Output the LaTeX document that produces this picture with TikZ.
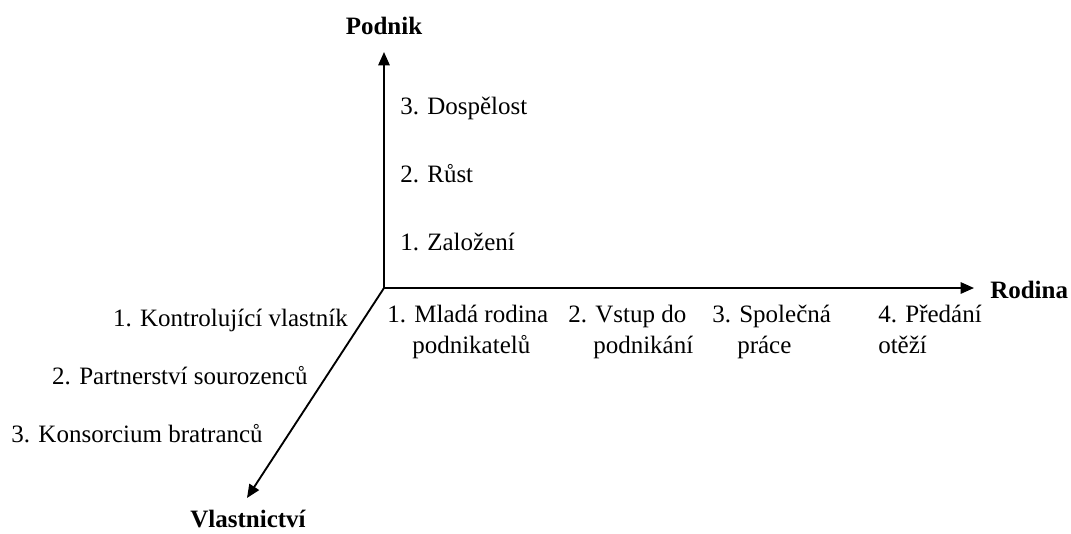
\documentclass[tikz,border=0pt]{standalone}
\usepackage{fontspec}
\setmainfont{Liberation Serif}
\usetikzlibrary{arrows.meta}
\begin{document}
\begin{tikzpicture}[x=0.75pt,y=-0.75pt,
  axis/.style={line width=1.4pt,-{Triangle[length=10pt,width=8.5pt]}},
  axislabel/.style={font=\fontsize{18.75}{23}\selectfont\bfseries,inner sep=0pt},
  stage/.style={font=\fontsize{18.75}{23}\selectfont,inner sep=0pt,align=left},
]
\useasboundingbox (0,0) rectangle (1071,533);

% origin and the ends of the three axes
\coordinate (O) at (384,288);
\coordinate (tipP) at (384,52);
\coordinate (tipR) at (974,288);
\coordinate (tipV) at (247,498);

\draw[axis] (O) -- (tipP);
\draw[axis] (O) -- (tipR);
\draw[axis] (O) -- (tipV);

% axis names
\node[axislabel,anchor=base] (podnik) at (384,34) {Podnik};
\node[axislabel,anchor=base west] (rodina) at (990,298) {Rodina};
\node[axislabel,anchor=base] (vlast) at (248,527) {Vlastnictví};

% stages of the business
\node[stage,anchor=base west] (p3) at (400,114) {3. Dospělost};
\node[stage,anchor=base west] (p2) at (400,182) {2. Růst};
\node[stage,anchor=base west] (p1) at (400,250) {1. Založení};

% stages of the family (two lines each, anchored on the lower baseline)
\node[stage,anchor=base west] (r1) at (387,353) {1. Mladá rodina\\\phantom{1.~}podnikatelů};
\node[stage,anchor=base west] (r2) at (568,353) {2. Vstup do\\\phantom{2.~}podnikání};
\node[stage,anchor=base west] (r3) at (712,353) {3. Společná\\\phantom{3.~}práce};
\node[stage,anchor=base west] (r4) at (878,353) {4. Předání\\otěží};

% stages of ownership
\node[stage,anchor=base east] (v1) at (348,326) {1. Kontrolující vlastník};
\node[stage,anchor=base east] (v2) at (308,384) {2. Partnerství sourozenců};
\node[stage,anchor=base east] (v3) at (263,442) {3. Konsorcium bratranců};
\end{tikzpicture}
\end{document}
